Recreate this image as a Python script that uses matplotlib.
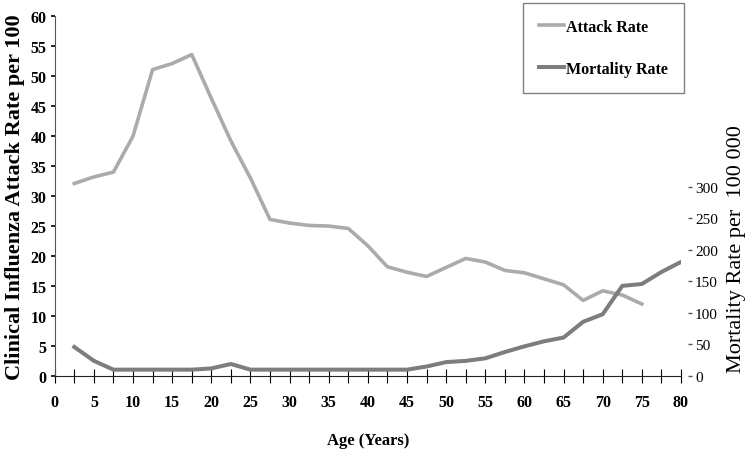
import matplotlib.pyplot as plt

# Age points (years)
ages = [2.5, 5, 7.5, 10, 12.5, 15, 17.5, 20, 22.5, 25, 27.5, 30, 32.5, 35, 37.5,
        40, 42.5, 45, 47.5, 50, 52.5, 55, 57.5, 60, 62.5, 65, 67.5, 70, 72.5, 75,
        77.5, 80]

# Clinical attack rate per 100 (left axis), ends at age 75
attack_rate = [32.1, 33.2, 34.0, 40.0, 51.1, 52.1, 53.6, 46.3, 39.2, 33.0, 26.1,
               25.5, 25.1, 25.0, 24.6, 21.7, 18.2, 17.3, 16.6, 18.1, 19.6, 19.0,
               17.6, 17.2, 16.2, 15.2, 12.6, 14.2, 13.5, 12.0]

# Mortality rate per 100 000 (right axis)
mortality_rate = [46, 24, 10, 10, 10, 10, 10, 12, 19, 10, 10, 10, 10, 10, 10,
                  10, 10, 10, 15, 22, 24, 28, 38, 47, 55, 61, 86, 98, 143, 146,
                  165, 181]

left_ticks = list(range(0, 61, 5))
right_ticks = list(range(0, 301, 50))
x_ticks = list(range(0, 81, 5))

serif = ['Liberation Serif', 'DejaVu Serif']

fig = plt.figure(figsize=(7.5, 4.52), dpi=100)
ax = fig.add_axes([0.073, 0.166, 0.835, 0.796])
ax2 = ax.twinx()

line1, = ax.plot(ages[:len(attack_rate)], attack_rate, color='#ababab', lw=2.6,
                 label='Attack Rate')
line2, = ax2.plot(ages, mortality_rate, color='#7d7d7d', lw=2.9,
                  label='Mortality Rate')

# left axis
ax.set_xlim(0, 80)
ax.set_ylim(0, 60)
ax.set_yticks(left_ticks)
ax.set_xticks(x_ticks)
ax.set_xticks([a + 2.5 for a in x_ticks[:-1]], minor=True)
ax.tick_params(axis='x', which='both', direction='inout', length=10, width=0.8,
               pad=8)
ax.tick_params(axis='y', direction='out', length=3, width=1.2, pad=3)
for lab in ax.get_xticklabels() + ax.get_yticklabels():
    lab.set_family(serif)
    lab.set_fontweight('bold')
    lab.set_fontsize(11.5)
for s in ['top', 'right']:
    ax.spines[s].set_visible(False)
ax.spines['left'].set_color('#555555')
ax.spines['bottom'].set_color('#222222')

ax.set_ylabel('Clinical Influenza Attack Rate per 100', family=serif,
              fontweight='bold', fontsize=16, labelpad=4)
ax.set_xlabel('Age (Years)', family=serif, fontweight='bold', fontsize=12,
              labelpad=16)

# right axis
ax2.set_ylim(0, 571)
ax2.set_yticks(right_ticks)
ax2.spines['right'].set_position(('outward', 5))
for s in ['top', 'right', 'left', 'bottom']:
    ax2.spines[s].set_visible(False)
ax2.tick_params(axis='y', direction='out', length=3, width=1.0, pad=2,
                color='#555555')
for lab in ax2.get_yticklabels():
    lab.set_family(serif)
    lab.set_fontsize(11)
ax2.set_ylabel('Mortality Rate per  100 000', family=serif, fontsize=16)
ax2.yaxis.set_label_coords(1.073, 0.356)

leg = fig.legend(handles=[line1, line2], loc='upper left',
                 bbox_to_anchor=(0.697, 0.991), borderaxespad=0, frameon=True,
                 fancybox=False, edgecolor='#808080', framealpha=1,
                 handlelength=1.6, handletextpad=0.1, labelspacing=1.6,
                 borderpad=1.0,
                 prop={'family': serif, 'weight': 'bold', 'size': 11.5})
leg.get_frame().set_linewidth(1.0)

fig.savefig('out.png', dpi=100)
